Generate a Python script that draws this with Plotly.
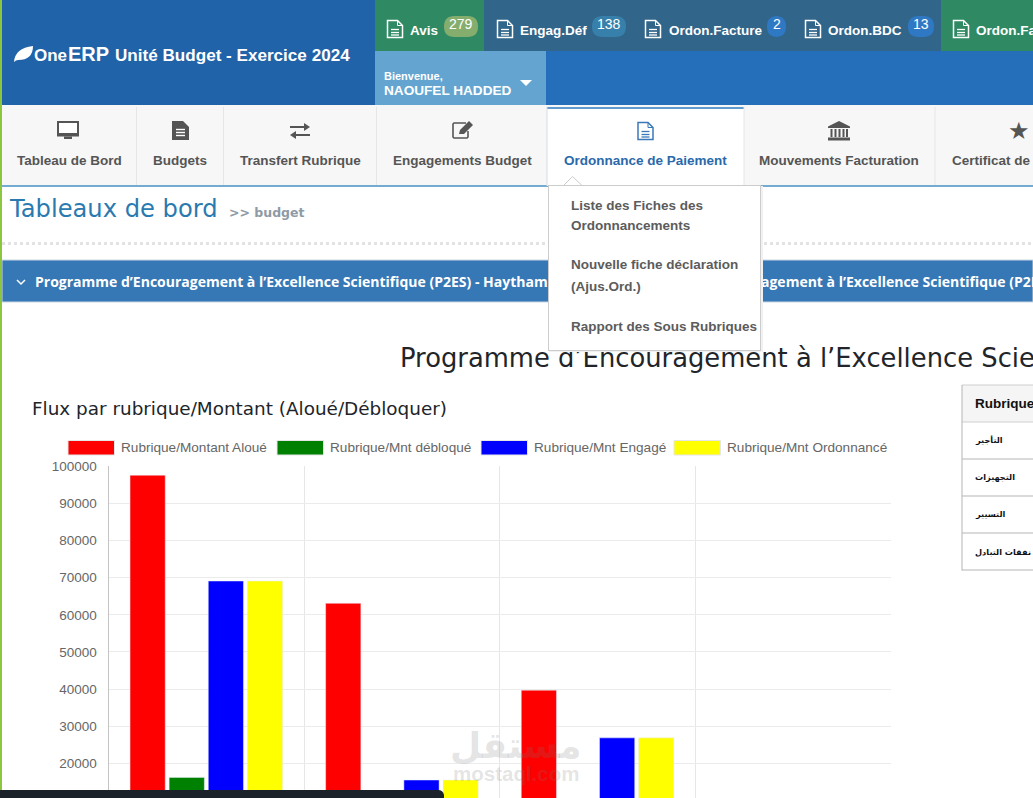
import plotly.graph_objects as go

W = 1033
H = 798

categories = ["التأجير", "التجهيزات", "التسيير", "نفقات التبادل"]
series_names = ["Rubrique/Montant Aloué", "Rubrique/Mnt débloqué", "Rubrique/Mnt Engagé", "Rubrique/Mnt Ordonnancé"]
series_colors = ["#ff0000", "#008000", "#0000ff", "#ffff00"]
# anything under 10650 is below the bottom of the screenshot
montant_aloue = [97600, 63100, 39700, 0]
mnt_debloque = [16200, 0, 0, 0]
mnt_engage = [69100, 15500, 26850, 0]
mnt_ordonnance = [69100, 15500, 26850, 0]
y_ticks = [20000, 30000, 40000, 50000, 60000, 70000, 80000, 90000, 100000]

top_tabs = ["Avis", "Engag.Déf", "Ordon.Facture", "Ordon.BDC", "Ordon.Fa"]
top_counts = ["279", "138", "2", "13"]
nav_items = ["Tableau de Bord", "Budgets", "Transfert Rubrique", "Engagements Budget",
             "Ordonnance de Paiement", "Mouvements Facturation", "Certificat de"]
menu_items = ["Liste des Fiches des", "Ordonnancements", "Nouvelle fiche déclaration", "(Ajus.Ord.)", "Rapport des Sous Rubriques"]


def fx(x):
    return x / W


def fy(y):
    return 1 - y / H


shapes = []
notes = []


def rect(x0, y0, x1, y1, color, layer="below", line=None):
    shapes.append(dict(type="rect", xref="paper", yref="paper", x0=fx(x0), x1=fx(x1), y0=fy(y0), y1=fy(y1),
                       fillcolor=color, line=dict(width=0) if line is None else line, layer=layer))


def hline(x0, x1, y, color, width=1, dash="solid", layer="below"):
    shapes.append(dict(type="line", xref="paper", yref="paper", x0=fx(x0), x1=fx(x1), y0=fy(y), y1=fy(y),
                       line=dict(color=color, width=width, dash=dash), layer=layer))


def vline(x, y0, y1, color, width=1, layer="below"):
    shapes.append(dict(type="line", xref="paper", yref="paper", x0=fx(x), x1=fx(x), y0=fy(y0), y1=fy(y1),
                       line=dict(color=color, width=width), layer=layer))


def path(cmds, fill=None, color=None, width=0, layer="below"):
    # cmds is a list of (letter, x, y) in screen pixels
    d = ""
    for c in cmds:
        if c[0] == "Z":
            d += " Z"
        elif c[0] == "Q":
            d += f" Q {fx(c[1])},{fy(c[2])} {fx(c[3])},{fy(c[4])}"
        else:
            d += f" {c[0]} {fx(c[1])},{fy(c[2])}"
    shapes.append(dict(type="path", xref="paper", yref="paper", path=d.strip(),
                       fillcolor=fill if fill else "rgba(0,0,0,0)",
                       line=dict(color=color if color else "rgba(0,0,0,0)", width=width), layer=layer))


def rounded(x0, y0, x1, y1, r, fill):
    path([("M", x0 + r, y0), ("L", x1 - r, y0), ("Q", x1, y0, x1, y0 + r), ("L", x1, y1 - r),
          ("Q", x1, y1, x1 - r, y1), ("L", x0 + r, y1), ("Q", x0, y1, x0, y1 - r), ("L", x0, y0 + r),
          ("Q", x0, y0, x0 + r, y0), ("Z",)], fill=fill)


def text(x, y, s, size, color, bold=False, anchor="left", family="Liberation Sans"):
    notes.append(dict(xref="paper", yref="paper", x=fx(x), y=fy(y), text=f"<b>{s}</b>" if bold else s,
                      showarrow=False, xanchor=anchor, yanchor="middle", borderpad=0, borderwidth=0,
                      font=dict(family=family, size=size, color=color)))


def doc_icon(cx, cy, color, width=1.5):
    x0, x1, y0, y1 = cx - 7.5, cx + 7.5, cy - 8.5, cy + 8.5
    path([("M", x0, y0), ("L", x1 - 5, y0), ("L", x1, y0 + 5), ("L", x1, y1), ("L", x0, y1), ("Z",)],
         fill=None, color=color, width=width)
    path([("M", x1 - 5, y0), ("L", x1 - 5, y0 + 5), ("L", x1, y0 + 5)], color=color, width=1)
    for dy in [0.5, 3.5, 6]:
        hline(cx - 4, cx + 4, cy + dy, color, 1.3)


# page chrome
rect(0, 0, W, H, "#ffffff")
rect(2, 0, 375, 105, "#2163a9")
rect(375, 51, 546, 105, "#63a5d0")
rect(546, 51, W, 105, "#256eba")
rect(375, 0, 484, 51, "#2f8a63")
rect(484, 0, 941, 51, "#316589")
rect(941, 0, W, 51, "#2f8a63")
rect(0, 0, 2, 790, "#8cc63f", layer="above")
rect(2, 105, W, 185, "#f7f7f7")
rect(2, 185, W, 187, "#73acd0")
rect(547, 107, 744, 186, "#ffffff")
rect(547, 107, 744, 109, "#5f9bcd")
for sep_x in [136.5, 223.5, 376.5, 744, 935]:
    vline(sep_x, 107, 185, "#e6e6e6")
vline(547, 107, 186, "#d5dde3")
hline(2, W, 243.5, "#e3e3e3", 3, "dot")
rect(2, 260, W, 302, "#3678b5", line=dict(color="#c9d6e2", width=1))

# header logo leaf
path([("M", 14, 62), ("Q", 15, 48, 33, 46), ("Q", 33, 60, 18, 60), ("Q", 16, 60, 14, 62), ("Z",)], fill="#ffffff")
text(34, 55.5, "One", 17, "#ffffff", True)
text(67.5, 54, "ERP", 20, "#ffffff", True)
text(114.5, 55.5, "Unité Budget - Exercice 2024", 17.1, "#ffffff", True)

# top tabs with counters
tab_icon_x = [395, 505, 653, 813, 961]
tab_text_x = [410, 520, 669, 828, 976]
for name, ix, tx in zip(top_tabs, tab_icon_x, tab_text_x):
    doc_icon(ix, 29, "#ffffff")
    text(tx, 30.5, name, 13.5, "#ffffff", True)

badge_boxes = [(444, 478, "#85ad6e"), (592, 626, "#3680ab"), (767, 786, "#2f79c4"), (908, 934, "#2f79c4")]
for count, (b0, b1, col) in zip(top_counts, badge_boxes):
    rounded(b0, 16, b1, 37, 10.5, col)
    text((b0 + b1) / 2, 24.5, count, 14, "#ffffff", anchor="center")

text(384, 75.5, "Bienvenue,", 11, "#ffffff", True)
text(384, 90.5, "NAOUFEL HADDED", 13.6, "#ffffff", True)
path([("M", 520, 80), ("L", 532, 80), ("L", 526, 86), ("Z",)], fill="#ffffff")

# nav icons
GREY = "#555555"
rect(58, 122, 78, 134, "#ffffff", line=dict(color=GREY, width=2))
rect(57, 133, 79, 136.5, GREY)
rect(64, 136.5, 72, 139, GREY)
path([("M", 172, 121), ("L", 183, 121), ("L", 189, 127), ("L", 189, 140), ("L", 172, 140), ("Z",)], fill=GREY)
for ly in [129.5, 132.5, 135.5]:
    hline(176, 185, ly, "#ffffff", 1.4)
hline(290, 307, 127, GREY, 2)
path([("M", 304, 123), ("L", 310, 127), ("L", 304, 131), ("Z",)], fill=GREY)
hline(293, 310, 135, GREY, 2)
path([("M", 296, 131), ("L", 290, 135), ("L", 296, 139), ("Z",)], fill=GREY)
path([("M", 466, 123), ("L", 454, 123), ("L", 453, 124), ("L", 453, 137), ("L", 454, 138), ("L", 467, 138), ("L", 468, 137), ("L", 468, 131)],
     color=GREY, width=1.6)
path([("M", 459, 134), ("L", 460, 130), ("L", 469, 121), ("L", 473, 125), ("L", 464, 134), ("Z",)], fill=GREY)
doc_icon(645.5, 131, "#3b78b8", 1.5)
path([("M", 839, 121), ("L", 850, 126.5), ("L", 850, 128), ("L", 828, 128), ("L", 828, 126.5), ("Z",)], fill=GREY)
for col_x in [831.5, 835.5, 839.5, 843.5, 847]:
    vline(col_x, 129, 137, GREY, 2)
rect(828, 137.5, 850, 140.5, GREY)
text(1019, 131, "★", 24, GREY, anchor="center", family="DejaVu Sans")

nav_x = [17, 153, 240, 393, 564, 759, 952]
for i, (name, nx) in enumerate(zip(nav_items, nav_x)):
    text(nx, 160.5, name, 13.5, "#2a69aa" if i == 4 else "#555555", True)

# page titles
text(9, 209, "Tableaux de bord", 24.2, "#2a7ab0", family="DejaVu Sans")
text(229, 212, "&gt;&gt; budget", 12.5, "#8e9aa5", True, family="DejaVu Sans")
path([("M", 17, 280), ("L", 21, 284), ("L", 25, 280)], color="#ffffff", width=1.5)
text(35, 282, "Programme d’Encouragement à l’Excellence Scientifique (P2ES) - Haytham", 14, "#ffffff", True, family="Open Sans")
text(761, 282, "agement à l’Excellence Scientifique (P2E", 14, "#ffffff", True, family="Open Sans")
text(400, 358, "Programme d’Encouragement à l’Excellence Scie", 25.8, "#212529", family="DejaVu Sans")
text(32, 408, "Flux par rubrique/Montant (Aloué/Débloquer)", 18.4, "#212529", family="DejaVu Sans")

# table on the right
rect(962, 385, 1040, 422, "#f5f5f5")
hline(962, W, 385, "#cfcfcf")
hline(962, W, 422, "#cfcfcf")
vline(962, 385, 570.5, "#b5b5b5")
for row_y in [459, 496, 533, 570]:
    hline(962, W, row_y, "#b5b5b5")
text(975, 403, "Rubrique", 13.5, "#111111", True)
for row_y, cat in zip([440, 477.5, 514, 551.5], categories):
    text(975, row_y, cat, 8.2, "#111111", True, family="DejaVu Sans")

# hand drawn legend, chart.js style boxes
legend_box_x = [68, 277, 481, 674]
for name, col, bx in zip(series_names, series_colors, legend_box_x):
    rect(bx, 440.5, bx + 46.5, 455, col, line=dict(color="#e6e6e6", width=1))
    text(bx + 53, 447.5, name, 13.6, "#666666")

# dark bar along the bottom
path([("M", 0, 790), ("L", 438, 790), ("Q", 443, 790, 444, 795), ("L", 444, 798), ("L", 0, 798), ("Z",)],
     fill="#1c2229", layer="above")

# watermark
text(516, 745, "مستقل", 36, "rgba(120,120,120,0.2)", True, anchor="center", family="DejaVu Sans")
text(516, 773, "mostaql.com", 20.5, "rgba(120,120,120,0.2)", True, anchor="center", family="Liberation Sans")


# dropdown goes last so it covers the texts under it
def box(x0, y0, x1, y1, color, border):
    notes.append(dict(xref="paper", yref="paper", x=fx(x0), y=fy(y0), text=" ", showarrow=False,
                      xanchor="left", yanchor="top", width=x1 - x0 - 2, height=y1 - y0 - 2, borderpad=0,
                      bgcolor=color, bordercolor=border, borderwidth=1))


box(549, 186, 763, 352, "#f1f1f1", "#f1f1f1")
box(547.5, 185, 760.5, 350.5, "#ffffff", "#cccccc")
path([("M", 563.5, 185.5), ("L", 572.5, 176.5), ("L", 582, 185.5)], fill="#ffffff", color="#cccccc", width=1, layer="above")
for name, my in zip(menu_items, [205, 225.5, 265, 286, 326]):
    text(571, my, name, 13.5, "#5c5c5c", True)

fig = go.Figure()
for name, col, vals in zip(series_names, series_colors, [montant_aloue, mnt_debloque, mnt_engage, mnt_ordonnance]):
    fig.add_trace(go.Bar(x=categories, y=vals, name=name, marker=dict(color=col)))

fig.update_layout(
    width=W, height=H, autosize=False,
    margin=dict(l=0, r=0, t=0, b=0),
    paper_bgcolor="#ffffff", plot_bgcolor="rgba(0,0,0,0)",
    barmode="group", bargap=0.2, bargroupgap=0.1,
    showlegend=False,
    shapes=shapes, annotations=notes,
)
fig.update_xaxes(domain=[fx(108.5), fx(891)], tickson="boundaries", showgrid=True, gridcolor="#e6e6e6",
                 showticklabels=False, ticks="", zeroline=False, showline=False, automargin=False)
fig.update_yaxes(domain=[0, fy(466.3)], range=[10650, 100000], tickmode="array", tickvals=y_ticks,
                 tickfont=dict(family="Liberation Sans", size=13.5, color="#666666"),
                 ticks="outside", ticklen=8, tickcolor="rgba(0,0,0,0)", tickformat="d", automargin=False,
                 showgrid=True, gridcolor="#ebebeb", zeroline=False, showline=True, linecolor="#c4c4c4")

fig.write_html("out.html", config=dict(displayModeBar=False),
               post_script="document.body.style.margin='0';document.body.style.overflow='hidden';")
